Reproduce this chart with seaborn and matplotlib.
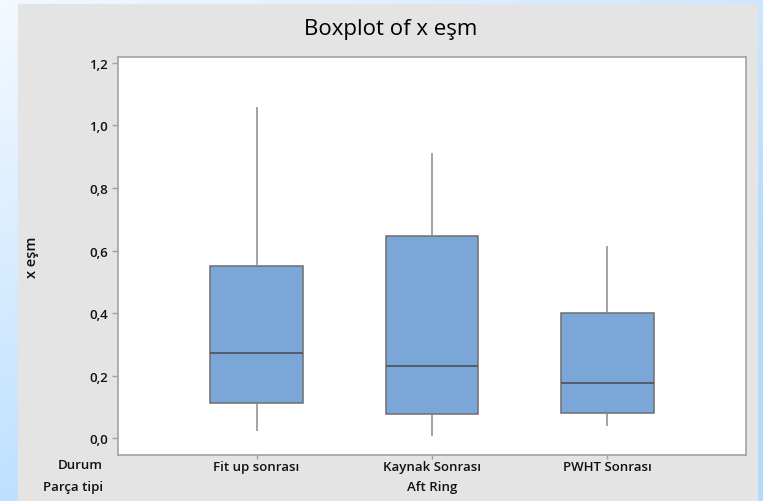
import numpy as np
import pandas as pd
import matplotlib
matplotlib.use("Agg")
import matplotlib.pyplot as plt
from matplotlib.patches import Rectangle
from matplotlib.ticker import FuncFormatter
import seaborn as sns

# Five-number summary (min, Q1, median, Q3, max) for each condition
categories = ["Fit up sonrası", "Kaynak Sonrası", "PWHT Sonrası"]
fit_up = [0.022, 0.112, 0.271, 0.551, 1.059]
kaynak = [0.006, 0.077, 0.232, 0.645, 0.911]
pwht = [0.039, 0.080, 0.177, 0.399, 0.613]
y_ticks = [0.0, 0.2, 0.4, 0.6, 0.8, 1.0, 1.2]

df = pd.DataFrame({
    "Durum": np.repeat(categories, 5),
    "x eşm": fit_up + kaynak + pwht,
})

sns.set_theme(style="white")
plt.rcParams["font.family"] = ["Open Sans", "DejaVu Sans"]

W, H = 763, 502
fig = plt.figure(figsize=(W / 100, H / 100), dpi=100)

# Window-style backdrop: blue gradient frame with a grey panel
bg = fig.add_axes([0, 0, 1, 1], zorder=-10)
bg.set_axis_off()
xx, yy = np.meshgrid(np.linspace(0, 1, 200), np.linspace(0, 1, 200))
t = np.clip(0.55 * xx + 0.75 * yy + 0.05, 0, 1)
c0 = np.array([248, 251, 255]) / 255
c1 = np.array([176, 218, 255]) / 255
grad = c0[None, None, :] * (1 - t[..., None]) + c1[None, None, :] * t[..., None]
bg.imshow(grad, extent=[0, 1, 1, 0], aspect="auto")
bg.set_xlim(0, 1)
bg.set_ylim(1, 0)
bg.add_patch(Rectangle((18 / W, 5 / H), (757 - 18) / W, 1, color="#e4e4e4", zorder=2))

ax = fig.add_axes([118 / W, 1 - 456 / H, (746 - 118) / W, (456 - 58) / H])
sns.boxplot(
    data=df, x="Durum", y="x eşm", ax=ax,
    color="#7ba7d8", saturation=1, width=0.53, whis=(0, 100),
    linewidth=1.1, linecolor="#666666",
    whiskerprops=dict(color="#8a8a8a", linewidth=1.1),
    capprops=dict(linewidth=0),
    medianprops=dict(color="#4a4a4a", linewidth=1.1),
    boxprops=dict(edgecolor="#6e6e6e"),
)
ax.set_xlim(-0.79, 2.79)
ax.set_ylim(-0.054, 1.219)
ax.set_facecolor("white")
for s in ax.spines.values():
    s.set_color("#a8a8a8")
    s.set_linewidth(1.3)

ax.set_yticks(y_ticks)
ax.yaxis.set_major_formatter(FuncFormatter(lambda v, p: f"{v:.1f}".replace(".", ",")))
ax.tick_params(axis="y", left=True, length=4, width=1, color="#a0a0a0",
               labelsize=9.5, labelcolor="#111111", pad=3)
ax.tick_params(axis="x", bottom=True, length=3, width=1, color="#a0a0a0",
               labelsize=9.5, labelcolor="#111111", pad=0.5)
for lbl in ax.get_yticklabels() + ax.get_xticklabels():
    lbl.set_fontweight("semibold")
ax.set_xlabel("")
ax.set_ylabel("")

fig.text(391 / W, 1 - 30 / H, "Boxplot of x eşm", ha="center", va="center",
         fontsize=16, color="#000000")
fig.text(32 / W, 1 - 257 / H, "x eşm", rotation=90, ha="center", va="center",
         fontsize=10.5, fontweight="semibold", color="#111111")
fig.text(103 / W, 1 - 466 / H, "Durum", ha="right", va="center",
         fontsize=9.5, fontweight="semibold", color="#111111")
fig.text(103 / W, 1 - 488 / H, "Parça tipi", ha="right", va="center",
         fontsize=9.5, fontweight="semibold", color="#111111")
fig.text(432 / W, 1 - 488 / H, "Aft Ring", ha="center", va="center",
         fontsize=9.5, fontweight="semibold", color="#111111")

fig.savefig("out.png", dpi=100)
